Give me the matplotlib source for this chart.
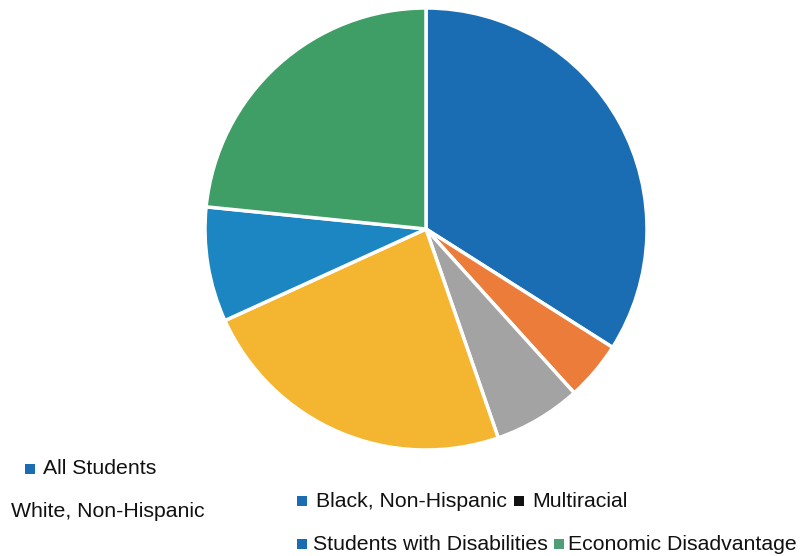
import matplotlib
matplotlib.use("Agg")
import matplotlib.pyplot as plt
from matplotlib.patches import Rectangle

categories = ["All Students", "White, Non-Hispanic", "Black, Non-Hispanic",
              "Multiracial", "Students with Disabilities", "Economic Disadvantage"]
values = [34.0, 4.3, 6.4, 23.5, 8.4, 23.4]
colors = ["#1A6DB3", "#EB7C3A", "#A3A3A3", "#F4B630", "#1C86C2", "#3F9E66"]

W, H = 808, 556
fig = plt.figure(figsize=(W / 100, H / 100), dpi=100)
cx, cy, r = 426, 229, 221
ax = fig.add_axes([(cx - r) / W, 1 - (cy + r) / H, 2 * r / W, 2 * r / H])
ax.pie(values, colors=colors, startangle=90, counterclock=False, radius=1.0,
       wedgeprops=dict(edgecolor="white", linewidth=2.5))
ax.set_xlim(-1, 1)
ax.set_ylim(-1, 1)
ax.set_aspect("equal")
ax.axis("off")

font = dict(family=["Liberation Sans", "DejaVu Sans"], fontsize=15.3, color="#111111")

def px(x, y):
    return x / W, 1 - y / H

def marker(x, y, c):
    fig.add_artist(Rectangle(px(x, y + 10), 10 / W, 10 / H, transform=fig.transFigure,
                             facecolor=c, edgecolor="none"))

# legend entries (layout as in the reference)
marker(25, 464, colors[0])
fig.text(*px(43, 474), categories[0], va="baseline", ha="left", **font)
fig.text(*px(11, 517), categories[1], va="baseline", ha="left", **font)
marker(297, 496, colors[0])
fig.text(*px(316, 507), categories[2], va="baseline", ha="left", **font)
marker(514, 496, "#111111")
fig.text(*px(532, 507), categories[3], va="baseline", ha="left", **font)
marker(297, 539, colors[0])
fig.text(*px(313, 550), categories[4], va="baseline", ha="left", **font)
marker(554, 539, "#4F9E78")
fig.text(*px(568, 550), categories[5], va="baseline", ha="left", **font)

fig.savefig("out.png", dpi=100)
